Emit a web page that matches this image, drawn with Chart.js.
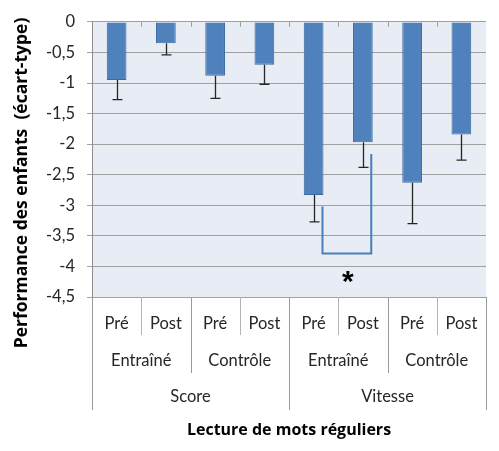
<!DOCTYPE html>
<html>
<head>
<meta charset="utf-8">
<script src="https://cdn.jsdelivr.net/npm/chart.js@4"></script>
<style>
  body { margin: 0; background: #fff; }
  #wrap { width: 499px; height: 451px; }
</style>
</head>
<body>
<div id="wrap"><canvas id="bar-canvas" width="499" height="451"></canvas></div>
<script>
// data
const categories = ['Pré', 'Post', 'Pré', 'Post', 'Pré', 'Post', 'Pré', 'Post'];
const groups = ['Entraîné', 'Contrôle', 'Entraîné', 'Contrôle'];
const measures = ['Score', 'Vitesse'];
const means = [-0.95, -0.35, -0.88, -0.70, -2.83, -1.97, -2.63, -1.84];
const errorEnds = [-1.27, -0.54, -1.25, -1.02, -3.27, -2.38, -3.30, -2.26];
const bracketIdx = [4, 5];
const bracketTops = [-3.02, -2.16];
const bracketBase = -3.79;
const starValue = -4.18;

const yTitle = 'Performance des enfants  (écart-type)';
const xTitle = 'Lecture de mots réguliers';
const FONT = 'Lato, "Open Sans", sans-serif';
const TITLE_FONT = '"Open Sans", Lato, sans-serif';

function fmt(v) {
  return String(Math.round(v * 10) / 10).replace('.', ',');
}

// plot background, drawn before the grid
const background = {
  id: 'background',
  beforeDraw(chart) {
    const a = chart.chartArea, ctx = chart.ctx;
    ctx.save();
    ctx.fillStyle = '#e8ecf4';
    ctx.fillRect(a.left, a.top, a.right - a.left, a.bottom - a.top);
    ctx.restore();
  }
};

// error bars (downward only) + significance bracket
const extras = {
  id: 'extras',
  afterDatasetsDraw(chart) {
    const ctx = chart.ctx, y = chart.scales.y, x = chart.scales.x;
    const a = chart.chartArea;
    const cw = (a.right - a.left) / categories.length;
    ctx.save();

    // small ticks on the top axis at category boundaries
    ctx.strokeStyle = '#a0a0a0';
    ctx.lineWidth = 1;
    for (let k = 1; k < categories.length; k++) {
      const px = Math.round(a.left + k * cw) + 0.5;
      ctx.beginPath();
      ctx.moveTo(px, a.top);
      ctx.lineTo(px, a.top + 5);
      ctx.stroke();
    }

    const meta = chart.getDatasetMeta(0);
    ctx.strokeStyle = '#262626';
    ctx.lineWidth = 1.3;
    meta.data.forEach((bar, i) => {
      const bx = Math.round(bar.x) + 0.5;
      const ye = y.getPixelForValue(errorEnds[i]);
      ctx.beginPath();
      ctx.moveTo(bx, bar.y);
      ctx.lineTo(bx, ye);
      ctx.moveTo(bx - 5, ye);
      ctx.lineTo(bx + 5, ye);
      ctx.stroke();
    });

    // bracket
    const xl = x.getPixelForValue(bracketIdx[0]) + 0.18 * cw;
    const xr = x.getPixelForValue(bracketIdx[1]) + 0.17 * cw;
    const yb = y.getPixelForValue(bracketBase);
    ctx.strokeStyle = '#4a7ebb';
    ctx.lineWidth = 2;
    ctx.beginPath();
    ctx.moveTo(xl, y.getPixelForValue(bracketTops[0]));
    ctx.lineTo(xl, yb);
    ctx.lineTo(xr, yb);
    ctx.lineTo(xr, y.getPixelForValue(bracketTops[1]));
    ctx.stroke();

    // star, centred by its ink box
    ctx.fillStyle = '#000';
    ctx.font = 'bold 30px "Liberation Sans", sans-serif';
    ctx.textAlign = 'center';
    ctx.textBaseline = 'alphabetic';
    const m = ctx.measureText('*');
    const cy = y.getPixelForValue(starValue);
    ctx.fillText('*', (xl + xr) / 2 + 1, cy + (m.actualBoundingBoxAscent - m.actualBoundingBoxDescent) / 2);
    ctx.restore();
  },

  // nested category labels, dividers, axis titles
  afterDraw(chart) {
    const ctx = chart.ctx, a = chart.chartArea;
    const n = categories.length;
    const cw = (a.right - a.left) / n;
    const b = a.bottom;
    ctx.save();

    ctx.lineWidth = 1;
    for (let k = 0; k <= n; k++) {
      const px = Math.round(a.left + k * cw) + 0.5;
      let len = 113;
      if (k % 2 === 1) len = 38;
      else if (k % 4 === 2) len = 76;
      ctx.strokeStyle = k % 2 === 1 ? '#b4b4b4' : '#9a9a9a';
      ctx.beginPath();
      ctx.moveTo(px, b);
      ctx.lineTo(px, b + len);
      ctx.stroke();
    }

    ctx.fillStyle = '#262626';
    ctx.textAlign = 'center';
    ctx.textBaseline = 'middle';
    ctx.font = '16.5px ' + FONT;
    categories.forEach((c, i) => ctx.fillText(c, a.left + (i + 0.5) * cw, b + 27));
    groups.forEach((g, i) => ctx.fillText(g, a.left + (i + 0.5) * 2 * cw, b + 64));
    measures.forEach((s, i) => ctx.fillText(s, a.left + (i + 0.5) * 4 * cw, b + 100));

    ctx.fillStyle = '#000';
    ctx.font = 'bold 16px ' + TITLE_FONT;
    ctx.fillText(xTitle, (a.left + a.right) / 2, b + 133);

    ctx.font = 'bold 17.5px ' + TITLE_FONT;
    ctx.translate(22, 183);
    ctx.rotate(-Math.PI / 2);
    ctx.fillText(yTitle, 0, 0);
    ctx.restore();
  }
};

new Chart('bar-canvas', {
  type: 'bar',
  data: {
    labels: categories,
    datasets: [{
      data: means,
      backgroundColor: '#4f81bd',
      borderColor: '#3b6a9e',
      borderWidth: 1,
      barPercentage: 0.4,
      categoryPercentage: 1
    }]
  },
  options: {
    responsive: false,
    animation: false,
    events: [],
    layout: { padding: { top: 15, right: 13, bottom: 154, left: 0 } },
    plugins: {
      legend: { display: false },
      tooltip: { enabled: false }
    },
    scales: {
      x: { display: false },
      y: {
        min: -4.5,
        max: 0,
        afterFit(scale) { scale.width = 92; },
        ticks: {
          stepSize: 0.5,
          padding: 12,
          color: '#262626',
          font: { family: FONT, size: 16.5 },
          callback: v => fmt(v)
        },
        grid: { color: '#a0a0a0', tickLength: 5, lineWidth: 1 },
        border: { color: '#8c8c8c' }
      }
    }
  },
  plugins: [background, extras]
});
</script>
</body>
</html>
